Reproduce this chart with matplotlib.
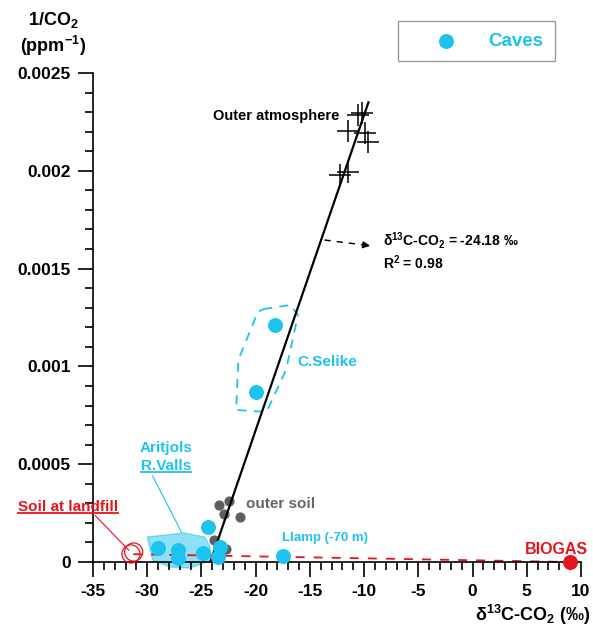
import matplotlib
matplotlib.use('Agg')
import matplotlib.pyplot as plt
from matplotlib.lines import Line2D
from matplotlib.patches import Polygon

plt.rcParams['font.family'] = ['Liberation Sans', 'DejaVu Sans']
plt.rcParams['font.weight'] = 'bold'
plt.rcParams['mathtext.fontset'] = 'custom'
plt.rcParams['mathtext.rm'] = 'Liberation Sans:bold'
plt.rcParams['mathtext.bf'] = 'Liberation Sans:bold'
plt.rcParams['mathtext.default'] = 'bf'
plt.rcParams['axes.unicode_minus'] = False

CYAN = '#1cc3ef'
RED = '#e8141c'
GREY = '#5f5f5f'

# caves (C.Selike, Aritjols / R.Valls, Llamp)
caves_x = [-18.25, -20.0, -29.0, -27.2, -27.2, -24.9, -24.4, -23.3, -23.5, -17.5]
caves_y = [0.00121, 0.00087, 0.000072, 0.000061, 0.00002, 0.000046,
           0.000179, 0.000077, 0.000026, 0.000031]

# outer soil
soil_x = [-23.4, -22.5, -22.95, -21.4, -23.8, -22.7]
soil_y = [0.000291, 0.000312, 0.000245, 0.00023, 0.000112, 0.0000665]

# outer atmosphere
atm_x = [-10.6, -10.15, -11.45, -9.95, -9.6, -12.2, -11.45]
atm_y = [0.002285, 0.002296, 0.002203, 0.002193, 0.002147, 0.001979, 0.001994]

# keeling regression line
keeling_x = [-24.18, -9.6]
keeling_y = [0.0, 0.00235]

# soil at landfill and biogas end members
landfill_x = [-31.5, -31.25]
landfill_y = [0.000041, 0.000051]
biogas_x = [9.0]
biogas_y = [0.0]
mixing_x = [-31.3, 9.0]
mixing_y = [0.00004, 0.0]

# outlines drawn around groups of caves
selike_x = [-19.3, -16.8, -16.1, -17.2, -19.0, -21.8, -21.6, -19.8]
selike_y = [0.001293, 0.001314, 0.001263, 0.000982, 0.000767, 0.000777, 0.001033, 0.001278]
aritjols_x = [-30.0, -26.6, -24.7, -24.25, -24.05, -26.1, -27.9, -29.5]
aritjols_y = [0.000128, 0.000148, 0.000128, 0.000082, 0.00001, -0.000031, -0.000026, 0.00001]

xticks = [-35, -30, -25, -20, -15, -10, -5, 0, 5, 10]
yticks = [0, 0.0005, 0.001, 0.0015, 0.002, 0.0025]
ytick_labels = ['0', '0.0005', '0.001', '0.0015', '0.002', '0.0025']

W, H = 593, 632
fig = plt.figure(figsize=(W / 100, H / 100), dpi=100)
ax = fig.add_axes([93 / W, 1 - 562 / H, (581 - 93) / W, (562 - 73) / H])

ax.set_xlim(-35, 10)
ax.set_ylim(0, 0.0025)
ax.spines['top'].set_visible(False)
ax.spines['right'].set_visible(False)
for s in ['left', 'bottom']:
    ax.spines[s].set_linewidth(1.2)
ax.set_xticks(xticks)
ax.set_xticks(range(-35, 11), minor=True)
ax.set_yticks(yticks)
ax.set_yticklabels(ytick_labels)
ax.set_yticks([i * 0.0001 for i in range(26)], minor=True)
ax.tick_params(which='major', direction='out', length=11, width=1.2, labelsize=12.5, pad=5)
ax.tick_params(which='minor', direction='out', length=5.5, width=1.2)

# mixing line between landfill soil and biogas
ax.plot(mixing_x, mixing_y, color=RED, lw=1.3, dashes=(5, 5), clip_on=False, zorder=2)

# keeling line
ax.plot(keeling_x, keeling_y, color='black', lw=1.6, zorder=4)

# group outlines
ax.add_patch(Polygon(list(zip(selike_x, selike_y)), closed=True, fill=False,
                     edgecolor=CYAN, lw=1.3, ls=(0, (5, 4)), zorder=2))
ax.add_patch(Polygon(list(zip(aritjols_x, aritjols_y)), closed=True, facecolor=CYAN,
                     alpha=0.5, edgecolor=CYAN, lw=1.0, clip_on=False, zorder=1))

ax.scatter(soil_x, soil_y, s=40, color=GREY, clip_on=False, zorder=3)
ax.scatter(caves_x, caves_y, s=95, color=CYAN, clip_on=False, zorder=5, label='Caves')
ax.scatter(atm_x, atm_y, marker='+', s=260, color='black', linewidths=1.1, zorder=5)
ax.scatter(landfill_x, landfill_y, s=170, facecolors='none', edgecolors=RED,
           linewidths=0.9, clip_on=False, zorder=5)
ax.scatter(biogas_x, biogas_y, s=95, color=RED, clip_on=False, zorder=5)

# legend
leg = ax.legend(loc='center', bbox_to_anchor=(476.5 / W, 1 - 41 / H),
                bbox_transform=fig.transFigure, fontsize=13.5, frameon=True,
                fancybox=False, edgecolor='#808080', handlelength=3.9,
                handletextpad=0.3, borderpad=0.6, labelcolor=CYAN, scatterpoints=1)
leg.get_frame().set_linewidth(1.0)

# annotations
ax.text(-12.3, 0.00228, 'Outer atmosphere', ha='right', va='center', fontsize=10.5)
ax.plot([-13.65, -9.6], [0.001646, 0.001618], color='black', lw=1.1, dashes=(4, 4))
ax.annotate('', xy=(-9.2, 0.001615), xytext=(-9.9, 0.00162),
            arrowprops=dict(arrowstyle='-|>', color='black', lw=1.1, mutation_scale=10))
ax.text(-8.3, 0.001645, 'δ$^{13}$C-CO$_2$ = -24.18 ‰', ha='left', va='center', fontsize=10)
ax.text(-8.3, 0.00153, 'R$^2$ = 0.98', ha='left', va='center', fontsize=10)
ax.text(-16.2, 0.001022, 'C.Selike', ha='left', va='center', fontsize=11, color=CYAN)
ax.text(-20.9, 0.000296, 'outer soil', ha='left', va='center', fontsize=11, color='#666666')
ax.text(-17.6, 0.000123, 'Llamp (-70 m)', ha='left', va='center', fontsize=9.5, color=CYAN)
ax.text(10.6, 0.000066, 'BIOGAS', ha='right', va='center', fontsize=11.5, color=RED)

t_arit = ax.text(-28.3, 0.000583, 'Aritjols', ha='center', va='center', fontsize=11, color=CYAN)
t_valls = ax.text(-28.3, 0.000491, 'R.Valls', ha='center', va='center', fontsize=11, color=CYAN)
ax.plot([-29.5, -26.8], [0.00044, 0.000148], color=CYAN, lw=0.8, zorder=2)

t_soil = ax.text(-37.3, 0.000281, 'Soil at landfill', ha='center', va='center',
                 fontsize=11, color=RED, clip_on=False)
ax.plot([-34.8, -31.7], [0.000238, 0.00006], color=RED, lw=0.8, clip_on=False, zorder=2)

fig.text(53 / W, 1 - 20 / H, '1/CO$_2$', ha='center', va='center', fontsize=13)
fig.text(53 / W, 1 - 46 / H, '(ppm$^{-1}$)', ha='center', va='center', fontsize=13)
fig.text(590 / W, 1 - 615 / H, 'δ$^{13}$C-CO$_2$ (‰)', ha='right', va='center', fontsize=13)

# underline some labels
fig.canvas.draw()
renderer = fig.canvas.get_renderer()
for t, col in [(t_valls, CYAN), (t_soil, RED)]:
    bb = t.get_window_extent(renderer)
    fig.add_artist(Line2D([bb.x0 / W, bb.x1 / W], [(bb.y0 + 1) / H, (bb.y0 + 1) / H],
                          color=col, lw=1.3, transform=fig.transFigure))

fig.savefig('out.png', dpi=100)
